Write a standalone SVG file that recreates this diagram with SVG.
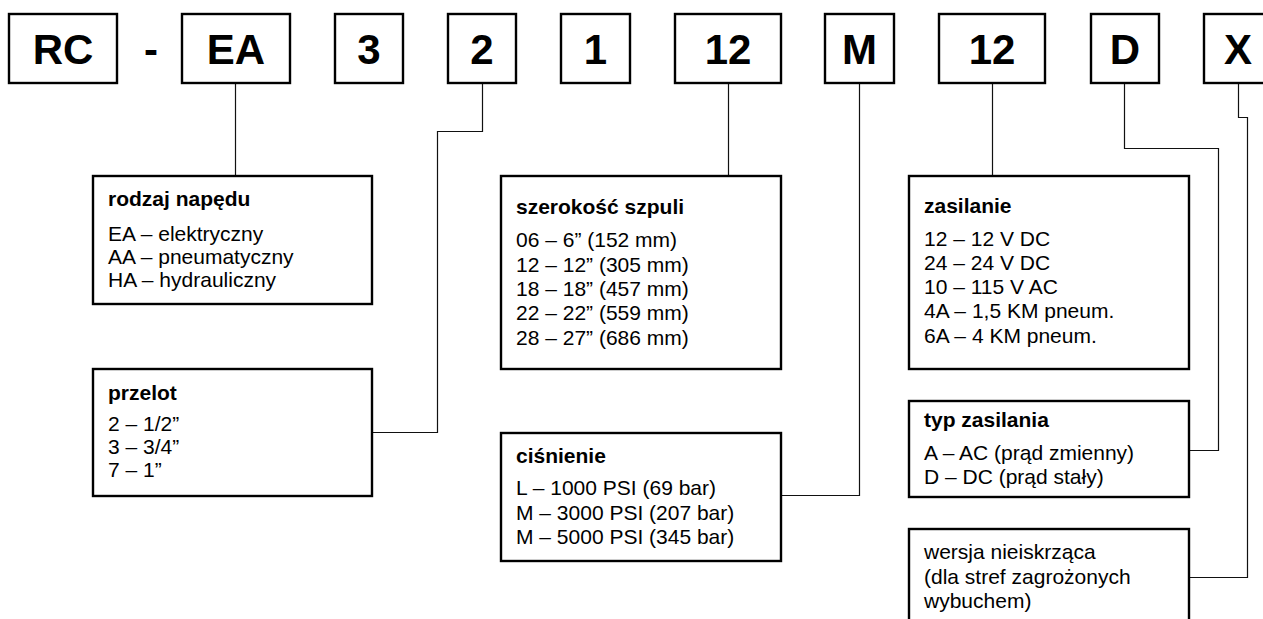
<svg xmlns="http://www.w3.org/2000/svg" width="1263" height="619" viewBox="0 0 1263 619">
<style>
.code rect{fill:#fff;stroke:#000;stroke-width:2.4}
.code text{font-family:"Liberation Sans",Arial,sans-serif;font-weight:bold;font-size:42px;text-anchor:middle;fill:#000}
.box rect{fill:#fff;stroke:#000;stroke-width:2.4}
.box text{font-family:"Liberation Sans",Arial,sans-serif;font-size:21px;fill:#000}
.box text.t{font-weight:bold}
.conn path{fill:none;stroke:#111;stroke-width:1.2}
</style>
<rect width="1263" height="619" fill="#fff"/>
<g id="conn" class="conn">
<path d="M235.5,83 V176"/>
<path d="M482.5,83 V131.5 H437.5 V432.5 H372"/>
<path d="M728.5,83 V176"/>
<path d="M859.5,83 V495.5 H781"/>
<path d="M992.5,83 V176"/>
<path d="M1124.5,83 V148.5 H1218.5 V450.5 H1189"/>
<path d="M1238.5,83 V117.5 H1247.5 V577.5 H1189"/>
</g>
<g id="c-rc" class="code"><rect x="9" y="14" width="108" height="69"/><text x="63" y="64">RC</text></g>
<g id="c-dash" class="code"><text x="151" y="64">-</text></g>
<g id="c-ea" class="code"><rect x="182" y="14" width="108" height="69"/><text x="236" y="64">EA</text></g>
<g id="c-3" class="code"><rect x="335" y="14" width="68" height="69"/><text x="369" y="64">3</text></g>
<g id="c-2" class="code"><rect x="448" y="14" width="68" height="69"/><text x="482" y="64">2</text></g>
<g id="c-1" class="code"><rect x="561" y="14" width="69" height="69"/><text x="595.5" y="64">1</text></g>
<g id="c-12a" class="code"><rect x="675" y="14" width="106" height="69"/><text x="728" y="64">12</text></g>
<g id="c-m" class="code"><rect x="825" y="14" width="69" height="69"/><text x="859.5" y="64">M</text></g>
<g id="c-12b" class="code"><rect x="939" y="14" width="106" height="69"/><text x="992" y="64">12</text></g>
<g id="c-d" class="code"><rect x="1091" y="14" width="68" height="69"/><text x="1125" y="64">D</text></g>
<g id="c-x" class="code"><rect x="1204" y="14" width="68" height="69"/><text x="1238" y="64">X</text></g>

<g id="b-rodzaj" class="box"><rect x="93" y="176" width="279" height="128"/>
<text class="t" x="108" y="206">rodzaj napędu</text>
<text x="108" y="241">EA – elektryczny</text>
<text x="108" y="264">AA – pneumatyczny</text>
<text x="108" y="287">HA – hydrauliczny</text></g>

<g id="b-przelot" class="box"><rect x="93" y="369" width="279" height="127"/>
<text class="t" x="108" y="400">przelot</text>
<text x="108" y="431">2 – 1/2”</text>
<text x="108" y="454">3 – 3/4”</text>
<text x="108" y="477">7 – 1”</text></g>

<g id="b-szer" class="box"><rect x="501" y="176" width="280" height="193"/>
<text class="t" x="516" y="214">szerokość szpuli</text>
<text x="516" y="247">06 – 6” (152 mm)</text>
<text x="516" y="272">12 – 12” (305 mm)</text>
<text x="516" y="296">18 – 18” (457 mm)</text>
<text x="516" y="320">22 – 22” (559 mm)</text>
<text x="516" y="345">28 – 27” (686 mm)</text></g>

<g id="b-cisn" class="box"><rect x="501" y="433" width="280" height="128"/>
<text class="t" x="516" y="463">ciśnienie</text>
<text x="516" y="495">L – 1000 PSI (69 bar)</text>
<text x="516" y="520">M – 3000 PSI (207 bar)</text>
<text x="516" y="544">M – 5000 PSI (345 bar)</text></g>

<g id="b-zas" class="box"><rect x="909" y="176" width="280" height="193"/>
<text class="t" x="924" y="213">zasilanie</text>
<text x="924" y="246">12 – 12 V DC</text>
<text x="924" y="270">24 – 24 V DC</text>
<text x="924" y="294">10 – 115 V AC</text>
<text x="924" y="318">4A – 1,5 KM pneum.</text>
<text x="924" y="343">6A – 4 KM pneum.</text></g>

<g id="b-typ" class="box"><rect x="909" y="401" width="280" height="96"/>
<text class="t" x="924" y="427">typ zasilania</text>
<text x="924" y="460">A – AC (prąd zmienny)</text>
<text x="924" y="484">D – DC (prąd stały)</text></g>

<g id="b-wersja" class="box"><rect x="909" y="529" width="280" height="100"/>
<text x="924" y="559">wersja nieiskrząca</text>
<text x="924" y="584">(dla stref zagrożonych</text>
<text x="924" y="608">wybuchem)</text></g>
</svg>
